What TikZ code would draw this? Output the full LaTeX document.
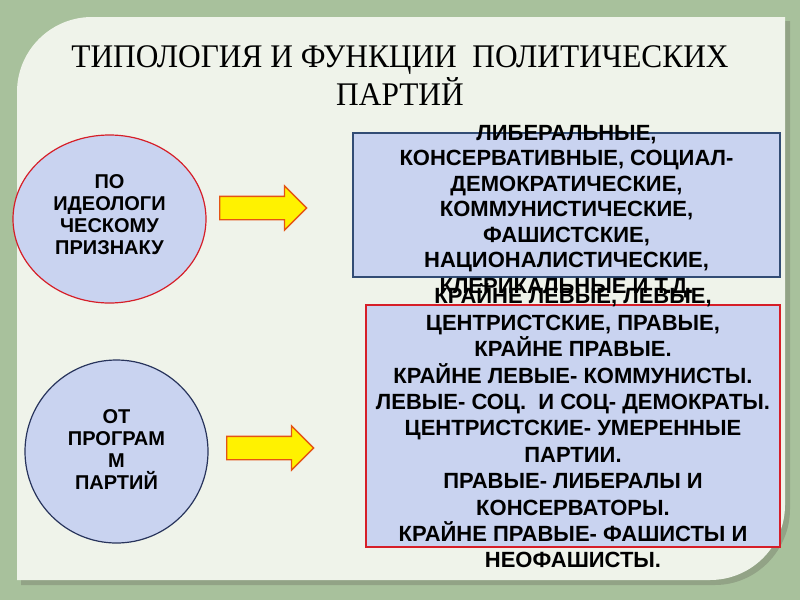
\documentclass[tikz,border=0pt]{standalone}
\usepackage{fontspec}
\setmainfont{Liberation Serif}[FakeStretch=0.95]
\newfontfamily\boxfont{Liberation Sans}
\usetikzlibrary{positioning,shapes.geometric,shapes.arrows}
\definecolor{bggreen}{RGB}{168,193,156}
\definecolor{paper}{RGB}{239,243,234}
\definecolor{paperedge}{RGB}{146,163,134}
\definecolor{lilac}{RGB}{201,211,240}
\definecolor{slateb}{RGB}{50,76,116}
\definecolor{navyline}{RGB}{40,52,92}
\definecolor{redline}{RGB}{214,30,40}
\definecolor{arrowedge}{RGB}{228,84,20}

\begin{document}
\begin{tikzpicture}[x=1pt,y=-1pt,
  every node/.style={inner sep=0pt},
  title/.style={font=\fontsize{33}{38}\selectfont,anchor=base},
  circ/.style={ellipse,fill=lilac,line width=1.2pt},
  circtext/.style={font=\boxfont\bfseries\fontsize{20}{22}\selectfont,align=center},
  box/.style={draw,fill=lilac,line width=1.2pt},
  boxtext/.style={font=\boxfont\bfseries\fontsize{22}{25.5}\selectfont,align=center},
  yarrow/.style={single arrow,draw=arrowedge,fill=yellow,line width=1.3pt,
    minimum height=87pt,inner xsep=0pt,inner ysep=11pt,
    single arrow head extend=10.5pt,anchor=tail}]
 % slide background
 \useasboundingbox (0,0) rectangle (800,600);
 \fill[bggreen] (0,0) rectangle (800,600);
 \fill[paperedge] (21,585) -- (21,96) .. controls (21,54.6) and (54.6,21) .. (96,21)
   -- (790,21) -- (790,509) .. controls (790,550.4) and (756.4,585) .. (715,585) -- cycle;
 \fill[paper] (17,580) -- (17,92) .. controls (17,50.6) and (50.6,17) .. (92,17)
   -- (785,17) -- (785,505) .. controls (785,546.4) and (751.4,580) .. (710,580) -- cycle;
 % title
 \node[title] (ttl) at (400,67) {ТИПОЛОГИЯ И ФУНКЦИИ\ \ ПОЛИТИЧЕСКИХ};
 \node[title] (ttl2) at (400,105) {ПАРТИЙ};
 % left column
 \node[circ,draw=redline,minimum width=193pt,minimum height=168pt] (ideo) at (109.5,219) {};
 \node[circtext] (ideotxt) at ([yshift=4pt]ideo.center) {ПО\\ИДЕОЛОГИ\\ЧЕСКОМУ\\ПРИЗНАКУ};
 \node[circ,draw=navyline,minimum width=183pt,minimum height=183pt] (prog) at (116.5,451.5) {};
 \node[circtext] (progtxt) at ([yshift=2pt]prog.center) {ОТ\\ПРОГРАМ\\М\\ПАРТИЙ};
 % arrows
 \node[yarrow] (a1) at (219,208) {};
 \node[yarrow] (a2) at (226,448) {};
 % right column
 \node[box,draw=slateb,minimum width=427pt,minimum height=144pt] (kinds) at (566.5,205) {};
 \node[boxtext] (kindstxt) at ([yshift=-6.5pt]kinds.center)
   {ЛИБЕРАЛЬНЫЕ,\\КОНСЕРВАТИВНЫЕ, СОЦИАЛ-\\ДЕМОКРАТИЧЕСКИЕ,\\КОММУНИСТИЧЕСКИЕ,\\ФАШИСТСКИЕ,\\НАЦИОНАЛИСТИЧЕСКИЕ,\\КЛЕРИКАЛЬНЫЕ И Т.Д.};
 \node[box,draw=redline,minimum width=414pt,minimum height=242pt] (wing) at (573,426) {};
 \node[boxtext,font=\boxfont\bfseries\fontsize{22}{26.4}\selectfont] (wingtxt) at (wing.center)
   {КРАЙНЕ ЛЕВЫЕ, ЛЕВЫЕ,\\ЦЕНТРИСТСКИЕ, ПРАВЫЕ,\\КРАЙНЕ ПРАВЫЕ.\\КРАЙНЕ ЛЕВЫЕ- КОММУНИСТЫ.\\ЛЕВЫЕ- СОЦ.\ \ И СОЦ- ДЕМОКРАТЫ.\\ЦЕНТРИСТСКИЕ- УМЕРЕННЫЕ\\ПАРТИИ.\\ПРАВЫЕ- ЛИБЕРАЛЫ И\\КОНСЕРВАТОРЫ.\\КРАЙНЕ ПРАВЫЕ- ФАШИСТЫ И\\НЕОФАШИСТЫ.};
\end{tikzpicture}
\end{document}
